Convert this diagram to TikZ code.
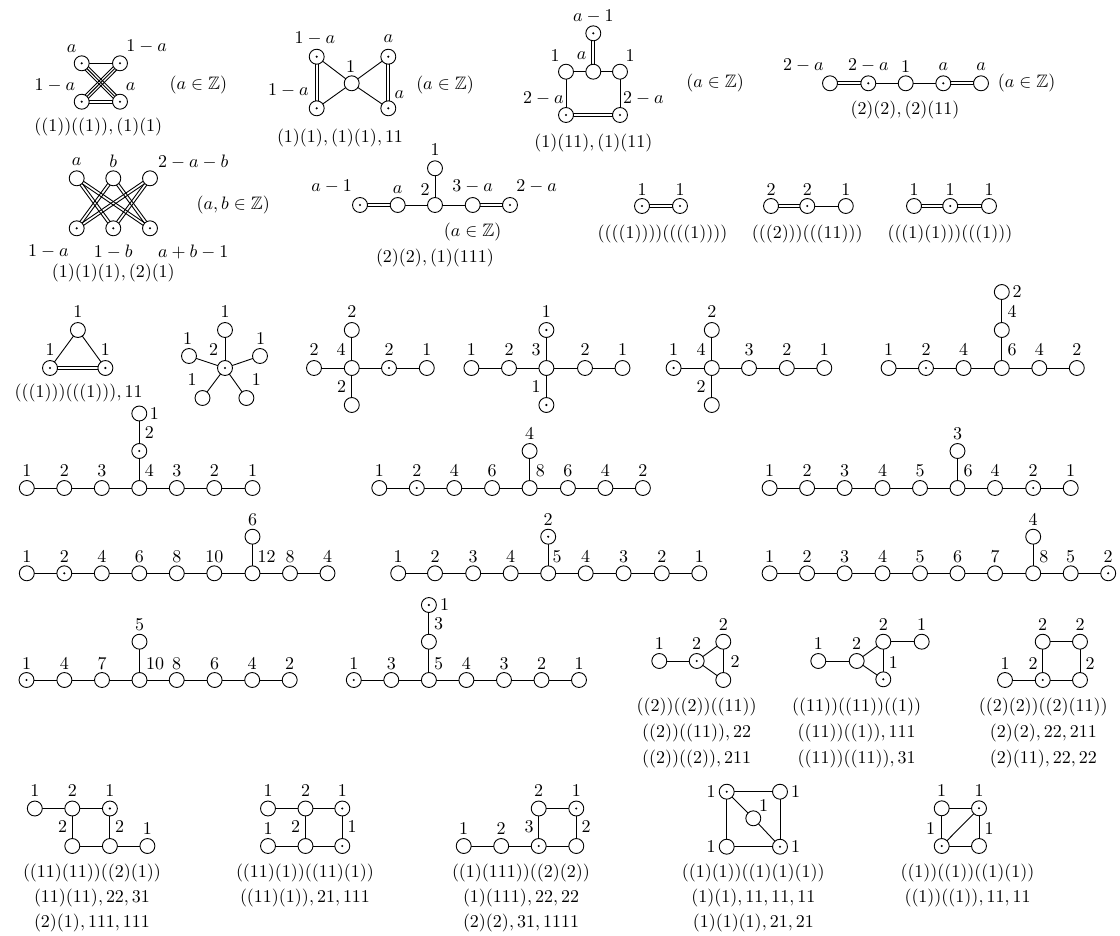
\documentclass[tikz,border=0pt]{standalone}
\usepackage{amssymb}
\usetikzlibrary{calc}
\pgfdeclarelayer{bg}
\pgfsetlayers{bg,main}
\newcounter{lbc}
\newcommand\Lab[2]{\stepcounter{lbc}\node[lab] (lb\thelbc) at (#1) {$#2$};}
\newcommand\edgS[2]{\draw[ln] (#1.center) -- (#2.center);}
\newcommand\edgD[2]{%
 \draw[ln] ($(#1.center)!0.8pt!90:(#2.center)$) -- ($(#2.center)!0.8pt!-90:(#1.center)$);%
 \draw[ln] ($(#1.center)!0.8pt!-90:(#2.center)$) -- ($(#2.center)!0.8pt!90:(#1.center)$);}
\newcommand\edgT[2]{%
 \draw[ln] (#1.center) -- (#2.center);%
 \draw[ln] ($(#1.center)!1.3pt!90:(#2.center)$) -- ($(#2.center)!1.3pt!-90:(#1.center)$);%
 \draw[ln] ($(#1.center)!1.3pt!-90:(#2.center)$) -- ($(#2.center)!1.3pt!90:(#1.center)$);}
\newcommand\chainS[2]{\foreach \i in {2,...,#2}{\pgfmathtruncatemacro\k{\i-1}\edgS{#1\k}{#1\i}}}
\begin{document}
\begin{tikzpicture}[x=0.5556pt,y=-0.5556pt,
 vo/.style={circle,draw,fill=white,minimum size=8.3pt,inner sep=0pt,line width=0.5pt},
 vd/.style={vo,path picture={\fill[black] (path picture bounding box.center) circle (0.65pt);}},
 ln/.style={line width=0.5pt},
 lab/.style={inner sep=0pt,anchor=center}]
\useasboundingbox (0,0) rectangle (1120,935);

% ---------- graph 1
\node[vd] (g1a) at (81.7,63.3) {};
\node[vd] (g1b) at (120,63.3) {};
\node[vd] (g1c) at (81.7,101.7) {};
\node[vd] (g1d) at (120,101.7) {};
\Lab{71.7,48.3}{a}\Lab{146.7,46.7}{1-a}\Lab{55,85}{1-a}\Lab{130.7,86.7}{a}
\Lab{198.3,85}{(a\in\mathbb{Z})}\Lab{98.3,126.7}{((1))((1)),(1)(1)}

% ---------- graph 2
\node[vd] (g2a) at (316.7,56.7) {};
\node[vd] (g2b) at (316.7,108.3) {};
\node[vo] (g2c) at (351.7,83.3) {};
\node[vd] (g2d) at (388.3,56.7) {};
\node[vd] (g2e) at (388.3,108.3) {};
\Lab{315,38.3}{1-a}\Lab{288.3,90}{1-a}\Lab{350.7,66.7}{1}\Lab{388.3,38.3}{a}\Lab{399.3,95}{a}
\Lab{445,85}{(a\in\mathbb{Z})}\Lab{340,138.3}{(1)(1),(1)(1),11}

% ---------- graph 3
\node[vd] (g3a) at (593.3,33.3) {};
\node[vo] (g3b) at (566,71.7) {};
\node[vo] (g3c) at (593.3,71.7) {};
\node[vo] (g3d) at (620,71.7) {};
\node[vd] (g3e) at (566,115) {};
\node[vd] (g3f) at (620,115) {};
\Lab{593.3,16.7}{a-1}\Lab{555,56}{1}\Lab{581.7,56}{a}\Lab{630,56}{1}
\Lab{543.3,98.3}{2-a}\Lab{643.3,98.3}{2-a}
\Lab{715,83.3}{(a\in\mathbb{Z})}\Lab{593.3,143.3}{(1)(11),(1)(11)}

% ---------- graph 4
\node[vo] (g4a) at (830,83.3) {};
\node[vd] (g4b) at (868.3,83.3) {};
\node[vo] (g4c) at (905.7,83.3) {};
\node[vd] (g4d) at (943.3,83.3) {};
\node[vo] (g4e) at (981,83.3) {};
\Lab{803.3,65}{2-a}\Lab{868.3,65}{2-a}\Lab{905.7,66.7}{1}\Lab{943.3,66.7}{a}\Lab{981,66.7}{a}
\Lab{1026.7,83.3}{(a\in\mathbb{Z})}\Lab{905,110}{(2)(2),(2)(11)}

% ---------- graph 5
\node[vo] (k1) at (76.7,178.3) {};
\node[vo] (k2) at (113.3,178.3) {};
\node[vo] (k3) at (150,178.3) {};
\node[vd] (k4) at (76.7,228.3) {};
\node[vd] (k5) at (113.3,228.3) {};
\node[vd] (k6) at (150,228.3) {};
\Lab{76.7,161.7}{a}\Lab{113.3,161.7}{b}\Lab{193.3,161.7}{2-a-b}
\Lab{48.3,251.7}{1-a}\Lab{113.3,251.7}{1-b}\Lab{193.3,251.7}{a+b-1}
\Lab{233.3,205}{(a, b\in\mathbb{Z})}\Lab{113.3,273.3}{(1)(1)(1),(2)(1)}

% ---------- graph 6
\node[vd] (g6a) at (360,205) {};
\node[vo] (g6b) at (397.7,205) {};
\node[vo] (g6c) at (435,205) {};
\node[vo] (g6d) at (472.7,205) {};
\node[vd] (g6e) at (510,205) {};
\node[vo] (g6f) at (435,168.3) {};
\Lab{331.7,186.7}{a-1}\Lab{397.7,189.3}{a}\Lab{425,189.3}{2}\Lab{472.7,186.7}{3-a}\Lab{536.7,186.7}{2-a}
\Lab{435,150}{1}\Lab{472.7,231.7}{(a\in\mathbb{Z})}\Lab{435,258.3}{(2)(2),(1)(111)}

% ---------- graphs 7-9
\node[vd] (g7a) at (642,206) {};
\node[vd] (g7b) at (680,206) {};
\Lab{642,189.3}{1}\Lab{680,189.3}{1}\Lab{662.6,234.3}{((((1))))((((1))))}
\node[vo] (g8a) at (771,206) {};
\node[vd] (g8b) at (807.3,206) {};
\node[vo] (g8c) at (845.8,206) {};
\Lab{771,189.3}{2}\Lab{807.3,189.3}{2}\Lab{845.8,189.3}{1}\Lab{807.3,234.3}{(((2)))(((11)))}
\node[vo] (g9a) at (914,206) {};
\node[vd] (g9b) at (950.2,206) {};
\node[vo] (g9c) at (989,206) {};
\Lab{914,189.3}{1}\Lab{950.2,189.3}{1}\Lab{989,189.3}{1}\Lab{950,234.3}{(((1)(1)))(((1)))}

% ---------- row 3
\node[vo] (tr1) at (77.9,330) {};
\node[vd] (tr2) at (50,368) {};
\node[vd] (tr3) at (105.4,368) {};
\Lab{77.9,312}{1}\Lab{50,350}{1}\Lab{105.4,350}{1}\Lab{78.6,393}{(((1)))(((1))),11}

\node[vd] (st0) at (225,368) {};
\node[vo] (st1) at (225,330) {};
\node[vo] (st2) at (189,356) {};
\node[vo] (st3) at (260,356) {};
\node[vo] (st4) at (202.5,398) {};
\node[vo] (st5) at (246.4,398) {};
\Lab{225,312}{1}\Lab{187.5,338.3}{1}\Lab{260.7,338.3}{1}\Lab{213.6,350}{2}\Lab{192,380}{1}\Lab{256.4,380}{1}

\node[vo] (ca1) at (314,368) {};
\node[vo] (ca2) at (351.8,368) {};
\node[vd] (ca3) at (389,368) {};
\node[vo] (ca4) at (426.8,368) {};
\node[vo] (ca5) at (351.8,330) {};
\node[vo] (ca6) at (351.8,405) {};
\Lab{314,350}{2}\Lab{341,350}{4}\Lab{389,350}{2}\Lab{426.8,350}{1}\Lab{351.8,312}{2}\Lab{341.5,387}{2}

\node[vo] (cb1) at (471.4,368) {};
\node[vo] (cb2) at (509,368) {};
\node[vo] (cb3) at (546.4,368) {};
\node[vo] (cb4) at (585,368) {};
\node[vo] (cb5) at (622.5,368) {};
\node[vd] (cb6) at (546.4,330) {};
\node[vd] (cb7) at (546.4,405) {};
\Lab{471.4,350}{1}\Lab{509,350}{2}\Lab{536,350}{3}\Lab{585,350}{2}\Lab{622.5,350}{1}\Lab{546.4,312}{1}\Lab{536,387}{1}

\node[vd] (cc1) at (673.6,368) {};
\node[vo] (cc2) at (711.8,368) {};
\node[vo] (cc3) at (749,368) {};
\node[vo] (cc4) at (786.8,368) {};
\node[vo] (cc5) at (824.3,368) {};
\node[vo] (cc6) at (711.8,330) {};
\node[vo] (cc7) at (711.8,405) {};
\Lab{673.6,350}{1}\Lab{701,350}{4}\Lab{749,350}{3}\Lab{786.8,350}{2}\Lab{824.3,350}{1}\Lab{711.8,312}{2}\Lab{701,387}{2}

\foreach \x/\s [count=\i] in {888.6/vo,926/vd,963.6/vo,1001.8/vo,1039.3/vo,1076.8/vo}{\node[\s] (ce\i) at (\x,368) {};}
\node[vo] (ce7) at (1001.8,330) {};
\node[vo] (ce8) at (1001.8,292) {};
\foreach \x/\t in {888.6/1,926/2,963.6/4,1012/6,1039.3/4,1076.8/2}{\Lab{\x,350}{\t}}
\Lab{1012,312}{4}\Lab{1017,292}{2}

% ---------- row 4
\foreach \x/\s [count=\i] in {26.8/vo,64.3/vo,101.8/vo,139.3/vo,176.8/vo,214.3/vo,252.5/vo}{\node[\s] (ra\i) at (\x,488) {};}
\node[vd] (ra8) at (139.3,451) {};
\node[vo] (ra9) at (139.3,413.5) {};
\foreach \x/\t in {26.8/1,64.3/2,101.8/3,149.3/4,176.8/3,214.3/2,252.5/1}{\Lab{\x,471}{\t}}
\Lab{149.3,433}{2}\Lab{154.3,413.5}{1}

\foreach \x/\s [count=\i] in {379.3/vo,416.8/vd,454.3/vo,492.1/vo,529.6/vo,567.9/vo,605.4/vo,642.9/vo}{\node[\s] (rb\i) at (\x,488) {};}
\node[vo] (rb9) at (529.6,451) {};
\foreach \x/\t in {379.3/1,416.8/2,454.3/4,492.1/6,540.4/8,567.9/6,605.4/4,642.9/2}{\Lab{\x,471}{\t}}
\Lab{529.6,434}{4}

\foreach \x/\s [count=\i] in {769.6/vo,807.1/vo,844.6/vo,882.5/vo,920/vo,957.5/vo,995/vo,1033.2/vd,1070.7/vo}{\node[\s] (rc\i) at (\x,488) {};}
\node[vo] (rc10) at (957.5,451) {};
\foreach \x/\t in {769.6/1,807.1/2,844.6/3,882.5/4,920/5,968.2/6,995/4,1033.2/2,1070.7/1}{\Lab{\x,471}{\t}}
\Lab{957.5,434}{3}

% ---------- row 5
\foreach \x/\s [count=\i] in {26.8/vo,64.3/vd,101.8/vo,139.3/vo,176.8/vo,214.3/vo,252.5/vo,290/vo,327.5/vo}{\node[\s] (sa\i) at (\x,573.3) {};}
\node[vo] (sa10) at (252.5,536.7) {};
\foreach \x/\t in {26.8/1,64.3/2,101.8/4,139.3/6,176.8/8,214.3/10,266.5/12,290/8,327.5/4}{\Lab{\x,556.5}{\t}}
\Lab{252.5,519.3}{6}

\foreach \x/\s [count=\i] in {398.2/vo,435/vo,473.2/vo,510.7/vo,548.2/vo,585.7/vo,623.6/vo,661.8/vo,699.3/vo}{\node[\s] (sb\i) at (\x,573.3) {};}
\node[vd] (sb10) at (548.2,536.7) {};
\foreach \x/\t in {398.2/1,435/2,473.2/3,510.7/4,557.1/5,585.7/4,623.6/3,661.8/2,699.3/1}{\Lab{\x,556.5}{\t}}
\Lab{548.2,519.3}{2}

\foreach \x/\s [count=\i] in {769.6/vo,807.1/vo,844.6/vo,882.5/vo,920/vo,957.5/vo,995/vo,1033.2/vo,1070.7/vo,1108.2/vd}{\node[\s] (sc\i) at (\x,573.3) {};}
\node[vo] (sc11) at (1033.2,536.7) {};
\foreach \x/\t in {769.6/1,807.1/2,844.6/3,882.5/4,920/5,957.5/6,995/7,1043.9/8,1070.7/5,1108.2/2}{\Lab{\x,556.5}{\t}}
\Lab{1033.2,519.3}{4}

% ---------- row 6
\foreach \x/\s [count=\i] in {26.5/vd,64.4/vo,102/vo,139.5/vo,176.7/vo,214.6/vo,252.2/vo,289.7/vo}{\node[\s] (ta\i) at (\x,680) {};}
\node[vo] (ta9) at (139.5,641.7) {};
\foreach \x/\t in {26.5/1,64.4/4,102/7,155/10,176.7/8,214.6/6,252.2/4,289.7/2}{\Lab{\x,663.3}{\t}}
\Lab{139.5,625}{5}

\foreach \x/\s [count=\i] in {353.8/vd,391.3/vo,428.9/vo,466.4/vo,504/vo,541.5/vo,579/vo}{\node[\s] (tb\i) at (\x,680) {};}
\node[vo] (tb8) at (428.9,641.7) {};
\node[vd] (tb9) at (428.9,605) {};
\foreach \x/\t in {353.8/1,391.3/3,438.7/5,466.4/4,504/3,541.5/2,579/1}{\Lab{\x,663.3}{\t}}
\Lab{438.7,624}{3}\Lab{444.7,605}{1}

\node[vo] (f1) at (659.3,661) {};
\node[vd] (f2) at (696.7,661) {};
\node[vo] (f3) at (723.3,641.7) {};
\node[vo] (f4) at (723.3,680) {};
\Lab{659.3,643.3}{1}\Lab{696.7,643.3}{2}\Lab{723.3,625}{2}\Lab{735,661.7}{2}
\Lab{696.7,707.3}{((2))((2))((11))}\Lab{696.7,733.3}{((2))((11)),22}\Lab{696.7,759.3}{((2))((2)),211}

\node[vo] (h1) at (818.3,661) {};
\node[vo] (h2) at (856.7,661) {};
\node[vo] (h3) at (883.3,641.7) {};
\node[vo] (h4) at (921.7,641.7) {};
\node[vd] (h5) at (883.3,679.3) {};
\Lab{818.3,643.3}{1}\Lab{856.7,643.3}{2}\Lab{883.3,625}{2}\Lab{921.7,625}{1}\Lab{893.3,662.7}{1}
\Lab{856.7,707.3}{((11))((11))((1))}\Lab{856.7,733.3}{((11))((1)),111}\Lab{856.7,759.3}{((11))((11)),31}

\node[vo] (q1) at (1005,680) {};
\node[vd] (q2) at (1042.7,680) {};
\node[vo] (q3) at (1080,680) {};
\node[vo] (q4) at (1042.7,641.7) {};
\node[vo] (q5) at (1080,641.7) {};
\Lab{1005,663.3}{1}\Lab{1033,663.3}{2}\Lab{1042.7,625}{2}\Lab{1080,625}{2}\Lab{1090,663.3}{2}
\Lab{1043.3,707.3}{((2)(2))((2)(11))}\Lab{1043.3,733.3}{(2)(2),22,211}\Lab{1043.3,759.3}{(2)(11),22,22}

% ---------- row 7
\node[vo] (a1) at (34.8,808.5) {};
\node[vo] (a2) at (72.3,808.5) {};
\node[vd] (a3) at (109.9,808.5) {};
\node[vo] (a4) at (72.3,846) {};
\node[vo] (a5) at (109.9,846) {};
\node[vo] (a6) at (147.4,846) {};
\Lab{34.8,791}{1}\Lab{72.3,791}{2}\Lab{109.9,791}{1}\Lab{62.5,827}{2}\Lab{119.7,827}{2}\Lab{147.4,829}{1}
\Lab{92,873}{((11)(11))((2)(1))}\Lab{92,898}{(11)(11),22,31}\Lab{92,923}{(2)(1),111,111}

\node[vo] (b1) at (268,808.5) {};
\node[vo] (b2) at (305.5,808.5) {};
\node[vd] (b3) at (342.3,808.5) {};
\node[vo] (b4) at (268,846) {};
\node[vo] (b5) at (305.5,846) {};
\node[vd] (b6) at (342.3,846) {};
\Lab{268,791}{1}\Lab{305.5,791}{2}\Lab{342.3,791}{1}\Lab{268,829}{1}\Lab{295.7,827}{2}\Lab{352,827}{1}
\Lab{305,873}{((11)(1))((11)(1))}\Lab{305,898}{((11)(1)),21,111}

\node[vo] (c1) at (538.7,808.5) {};
\node[vd] (c2) at (576.3,808.5) {};
\node[vo] (c3) at (463.7,846) {};
\node[vo] (c4) at (501.2,846) {};
\node[vd] (c5) at (538.7,846) {};
\node[vo] (c6) at (576.3,846) {};
\Lab{538.7,791}{2}\Lab{576.3,791}{1}\Lab{463.7,829}{1}\Lab{501.2,829}{2}\Lab{529,827}{3}\Lab{586,827}{2}
\Lab{521,873}{((1)(111))((2)(2))}\Lab{521,898}{(1)(111),22,22}\Lab{521,923}{(2)(2),31,1111}

\node[vd] (d1) at (726.7,791.7) {};
\node[vo] (d2) at (780,791.7) {};
\node[vo] (d3) at (726.7,846.7) {};
\node[vd] (d4) at (780,846.7) {};
\node[vo] (d5) at (753.3,818.3) {};
\Lab{711,792}{1}\Lab{795.5,792}{1}\Lab{763.5,806}{1}\Lab{711,846.7}{1}\Lab{795.5,846.7}{1}
\Lab{753.3,873}{((1)(1))((1)(1)(1))}\Lab{753.3,898}{(1)(1),11,11,11}\Lab{753.3,923}{(1)(1)(1),21,21}

\node[vo] (e1) at (941.7,808.3) {};
\node[vd] (e2) at (979,808.3) {};
\node[vd] (e3) at (941.7,846) {};
\node[vo] (e4) at (979,846) {};
\Lab{941.7,790.7}{1}\Lab{979,790.7}{1}\Lab{930.7,828.3}{1}\Lab{989,828.3}{1}
\Lab{967.5,873}{((1))((1))((1)(1))}\Lab{967.5,898}{((1))((1)),11,11}

% ================= edges
\begin{pgfonlayer}{bg}
\edgS{g1a}{g1b}\edgD{g1c}{g1d}\edgT{g1a}{g1d}\edgT{g1b}{g1c}
\edgD{g2a}{g2b}\edgD{g2d}{g2e}\edgS{g2a}{g2c}\edgS{g2b}{g2c}\edgS{g2d}{g2c}\edgS{g2e}{g2c}
\edgD{g3a}{g3c}\edgS{g3b}{g3c}\edgS{g3c}{g3d}\edgS{g3b}{g3e}\edgS{g3d}{g3f}\edgD{g3e}{g3f}
\edgD{g4a}{g4b}\edgS{g4b}{g4c}\edgS{g4c}{g4d}\edgD{g4d}{g4e}
\edgD{k1}{k5}\edgD{k1}{k6}\edgD{k2}{k4}\edgD{k2}{k6}\edgD{k3}{k4}\edgD{k3}{k5}
\edgD{g6a}{g6b}\edgS{g6b}{g6c}\edgS{g6c}{g6d}\edgD{g6d}{g6e}\edgS{g6c}{g6f}
\edgD{g7a}{g7b}
\edgD{g8a}{g8b}\edgS{g8b}{g8c}
\edgD{g9a}{g9b}\edgD{g9b}{g9c}
\edgS{tr1}{tr2}\edgS{tr1}{tr3}\edgD{tr2}{tr3}
\foreach \j in {1,...,5}{\edgS{st0}{st\j}}
\chainS{ca}{4}\edgS{ca2}{ca5}\edgS{ca2}{ca6}
\chainS{cb}{5}\edgS{cb3}{cb6}\edgS{cb3}{cb7}
\chainS{cc}{5}\edgS{cc2}{cc6}\edgS{cc2}{cc7}
\chainS{ce}{6}\edgS{ce4}{ce7}\edgS{ce7}{ce8}
\chainS{ra}{7}\edgS{ra4}{ra8}\edgS{ra8}{ra9}
\chainS{rb}{8}\edgS{rb5}{rb9}
\chainS{rc}{9}\edgS{rc6}{rc10}
\chainS{sa}{9}\edgS{sa7}{sa10}
\chainS{sb}{9}\edgS{sb5}{sb10}
\chainS{sc}{10}\edgS{sc8}{sc11}
\chainS{ta}{8}\edgS{ta4}{ta9}
\chainS{tb}{7}\edgS{tb3}{tb8}\edgS{tb8}{tb9}
\edgS{f1}{f2}\edgS{f2}{f3}\edgS{f2}{f4}\edgS{f3}{f4}
\edgS{h1}{h2}\edgS{h2}{h3}\edgS{h3}{h4}\edgS{h3}{h5}\edgS{h2}{h5}
\edgS{q1}{q2}\edgS{q2}{q3}\edgS{q2}{q4}\edgS{q3}{q5}\edgS{q4}{q5}
\edgS{a1}{a2}\edgS{a2}{a3}\edgS{a2}{a4}\edgS{a3}{a5}\edgS{a4}{a5}\edgS{a5}{a6}
\edgS{b1}{b2}\edgS{b2}{b3}\edgS{b4}{b5}\edgS{b5}{b6}\edgS{b2}{b5}\edgS{b3}{b6}
\edgS{c1}{c2}\edgS{c3}{c4}\edgS{c4}{c5}\edgS{c5}{c6}\edgS{c1}{c5}\edgS{c2}{c6}
\edgS{d1}{d2}\edgS{d1}{d3}\edgS{d2}{d4}\edgS{d3}{d4}\edgS{d1}{d5}\edgS{d5}{d4}
\edgS{e1}{e2}\edgS{e1}{e3}\edgS{e2}{e4}\edgS{e3}{e4}\edgS{e3}{e2}
\end{pgfonlayer}
\end{tikzpicture}
\end{document}
